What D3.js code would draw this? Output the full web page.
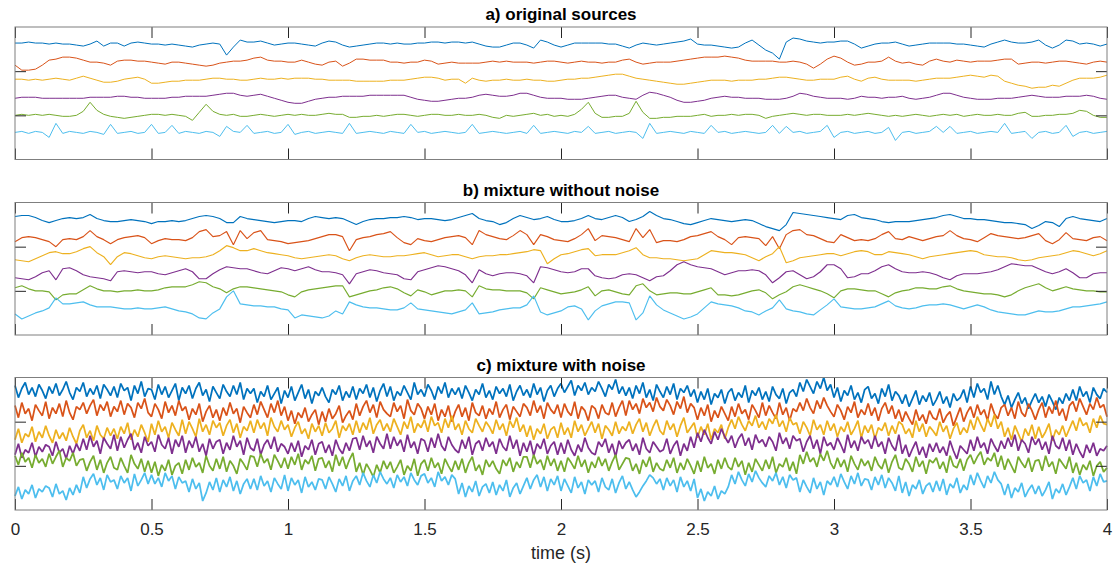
<!DOCTYPE html>
<html lang="en">

<head>
  <meta charset="UTF-8">
  <script src="https://cdn.jsdelivr.net/npm/d3@7"></script>
  <title>Sources and mixtures</title>
  <style>
    body { margin: 0; background: #fff; }
    svg { display: block; font-family: "Liberation Sans", Arial, sans-serif; }
  </style>
</head>

<body>
  <script>
  // Signals, 4 s each. Values are offsets from each trace's baseline.
  const duration = 4;
  const colors = ["#0072bd", "#d95319", "#edb120", "#7e2f8e", "#77ac30", "#4dbeee"];
  const titles = ["a) original sources", "b) mixture without noise", "c) mixture with noise"];
  const xTicks = [0, 0.5, 1, 1.5, 2, 2.5, 3, 3.5, 4];
  const yTicks = [44, 88];

  // a) original sources
  const srcOffsets = [116, 97, 80, 61, 44, 27];
  const srcBlue = [0,0,1,0,0,-1,0,-1,-1,-2,-3,-1,2,-3,0,0,-3,0,1,0,-1,-1,-2,-1,-2,-3,-4,-2,-1,0,-1,-12,-4,3,1,1,2,0,-2,-1,0,
    0,-1,-2,-3,0,2,1,-2,-4,-3,-2,-1,0,0,-1,0,-1,-1,0,0,1,1,0,1,1,0,1,-1,-3,-4,-4,
    -2,0,0,-2,-5,3,1,-2,-4,-2,0,0,0,0,0,-1,-1,-3,-5,-2,0,-1,-2,-1,0,1,2,4,-1,-2,-2,-3,-4,-5,-4,0,3,-2,-7,-10,-16,1,5,4,2,1,0,1,1,
    2,2,-1,-5,-3,-1,0,0,1,-1,-3,-2,-1,0,0,0,0,-1,-1,-2,-3,-4,-1,1,3,1,0,0,1,3,-2,-5,-2,3,2,-1,0,-1,-3,-1];
  const srcOrange = [-3,-8,-8,-7,-3,2,3,5,5,4,2,0,0,-1,-3,1,2,2,1,1,0,-1,-2,0,0,-1,-2,-3,-4,-3,-1,0,1,1,2,4,5,2,1,1,0,
    0,2,0,-2,-3,0,1,-4,-1,3,3,2,2,2,0,0,-1,0,0,2,1,-2,-1,0,-1,-1,-1,-1,0,1,0,
    1,0,0,0,-1,0,1,1,0,-1,0,1,0,0,-1,0,0,2,3,0,-2,-1,0,0,0,1,2,3,4,5,5,5,6,5,4,2,1,1,1,1,0,0,1,0,-2,-6,-2,3,6,
    4,0,-3,-2,0,0,1,5,1,-1,0,-2,-3,1,3,1,0,2,1,0,1,1,1,2,3,3,-2,-1,0,0,-1,0,1,1,0,-1,-2,0,1,0];
  const srcYellow = [0,0,-1,0,-1,0,1,0,-1,1,3,1,-1,-3,-3,-2,0,1,2,0,-4,-4,-3,-2,-2,-1,-1,-1,0,1,1,0,0,-1,-1,0,1,0,0,1,0,
    1,1,1,0,0,-1,-1,-1,-1,-2,-2,-2,-2,-2,-1,-1,-1,0,1,2,2,1,-1,0,0,-4,1,-1,-2,-1,-1,
    0,-1,-1,0,-1,-1,-2,-2,-1,0,0,1,1,2,3,4,5,5,3,1,0,-1,-2,-3,-4,-5,-5,-4,-3,-2,-1,-1,-1,-2,-1,-1,-1,0,0,1,2,2,1,0,-1,-1,0,0,0,
    2,3,0,-2,1,2,0,-1,-1,-1,-1,-2,-1,0,1,1,1,2,3,4,3,2,4,3,-2,-4,-6,-7,-9,-8,-8,-6,-7,-4,-1,1,1,1,2,4];
  const srcPurple = [0,1,1,1,0,0,0,0,0,0,0,1,1,1,1,2,2,1,1,0,0,0,0,1,1,2,2,2,2,3,4,5,5,3,2,3,4,2,0,-2,-4,
    -5,-5,-3,-1,0,1,1,2,2,2,2,3,3,3,3,3,3,1,-1,-2,-3,-3,-2,-1,0,0,1,3,4,3,2,
    2,3,5,5,3,1,0,0,0,-1,-1,-1,0,1,2,3,3,1,0,-1,3,6,5,3,1,-2,-4,-4,-3,-2,0,1,2,1,1,0,0,0,-1,-1,-1,0,2,5,4,2,1,0,0,
    0,-1,0,2,1,1,0,1,1,2,0,-1,0,1,3,5,5,3,1,0,-1,-1,-1,0,0,0,1,2,3,2,1,1,1,2,2,2,3,2,0,-1];
  const srcGreen = [0,1,0,1,0,1,0,-1,-1,0,4,13,5,1,-1,-2,-3,-2,-1,0,1,1,0,1,0,-1,-5,3,11,4,1,0,1,-1,-1,0,1,0,-1,0,1,
    0,1,0,0,1,2,1,1,-2,-2,-1,-1,0,-1,0,1,1,0,-1,0,1,1,0,0,1,0,0,1,0,-2,-3,
    0,-1,0,1,2,0,1,-1,0,-1,1,6,13,2,-2,-2,-1,-1,2,14,3,-3,-3,-2,-2,-1,-1,-1,0,1,-1,0,0,1,0,1,1,0,-3,-1,0,1,2,1,0,1,1,0,0,
    0,1,0,1,2,1,0,-1,0,-1,0,1,0,-1,0,1,0,1,-1,0,1,0,0,1,0,0,2,3,-1,-1,0,0,1,1,2,5,4,0,-2,-2];
  const srcCyan = [0,1,-1,1,0,-5,9,-1,1,0,-1,1,0,-2,8,-1,0,1,-1,0,8,-1,0,7,-1,1,0,-1,1,0,
    -4,6,1,0,7,-1,0,1,-1,0,8,-2,0,1,-1,0,1,0,-1,9,-1,0,1,0,-1,1,0,-1,8,0,
    1,-1,0,1,0,-1,0,8,-1,0,1,0,-1,0,1,-1,7,-1,0,1,0,-1,1,0,6,-1,0,1,-1,0,
    1,0,-6,9,-1,0,1,0,-1,1,0,-1,7,0,1,-1,0,1,0,-1,0,7,-1,6,0,1,-1,0,1,7,
    -5,0,1,-1,0,1,-1,0,5,-8,0,1,-1,0,1,6,0,6,-1,0,1,-1,0,1,0,9,-1,0,1,-6,
    0,1,-1,0,7,-4,0,1,-1,0,1];

  // b) mixture without noise
  const mixOffsets = [116, 96, 78, 63, 44, 24];
  const mixBlue = [2,3,3,1,-2,-4,-2,0,1,0,1,4,0,-2,-3,-3,-2,-1,-2,-3,-5,-3,-3,-2,-3,-2,0,2,3,2,
    0,-4,-4,2,0,-1,-2,-3,-4,-3,-2,-2,-3,0,2,1,0,1,0,-3,-6,-3,-1,0,0,1,1,2,1,-1,
    0,0,-1,-2,-1,1,3,5,0,-2,-3,-6,-4,0,3,1,-1,0,2,-1,-3,-3,-2,0,3,0,-1,1,3,1,
    -3,-1,2,7,3,0,-1,-3,-5,-6,-4,-2,0,-1,-2,-3,-2,-1,-2,-5,-8,-10,-12,-6,6,5,4,3,2,1,
    0,-1,3,4,1,0,-1,-3,-4,-3,-3,-3,-2,-1,0,1,3,4,2,0,0,-1,-1,-2,-3,-4,-4,-5,-6,-10,
    -7,-3,-4,-8,0,2,0,-1,-2,-3,0];
  const mixOrange = [-3,1,2,1,-1,-3,-8,-1,0,-1,2,8,2,-1,-5,-1,1,2,3,1,-5,-2,0,-1,-1,-2,1,7,9,2,
    3,7,-6,8,0,6,8,-1,-2,-3,-5,-4,-3,-2,0,2,4,4,2,-12,-1,1,2,4,5,7,1,-4,-6,0,
    -2,-3,-1,1,2,3,1,-6,8,4,2,0,-1,3,8,4,-6,4,2,-1,-2,-3,0,4,10,-2,3,2,1,-1,
    -3,10,1,9,-4,-2,-2,-3,-1,2,3,5,7,2,-1,-6,1,2,1,0,-7,2,-10,4,8,9,4,3,0,-3,
    -4,4,1,-2,-1,-2,0,4,7,0,-1,2,0,-2,0,2,3,8,3,0,-1,-3,1,5,3,2,1,0,1,3,
    5,-2,-5,-1,6,0,-1,-2,1,2,-2];
  const mixYellow = [-3,-4,-5,-2,1,4,5,3,3,5,8,10,4,0,-8,0,4,3,1,-1,-2,0,1,0,-1,-2,-1,-1,0,2,
    6,11,9,6,6,8,6,4,3,2,1,-1,-2,-1,0,1,2,1,-2,-4,-1,1,2,1,0,0,1,1,2,3,
    4,2,0,1,2,2,0,-2,0,1,1,2,2,3,4,5,7,6,-7,-2,2,3,5,7,8,1,2,2,2,4,
    6,9,2,-1,-1,-2,-2,-3,-4,-3,-2,2,6,5,4,4,3,2,-1,-4,0,3,10,-6,-4,-1,0,1,2,3,
    3,1,3,5,6,5,2,2,5,4,3,2,0,-2,0,1,2,3,4,5,6,5,2,1,0,0,-1,-3,-4,-3,
    -1,0,1,2,4,6,5,3,1,3,6];
  const mixPurple = [-6,-7,-8,-5,-1,1,-8,3,4,1,-3,-5,-6,-7,-9,0,1,0,-1,0,0,-2,-3,-1,1,3,0,-7,-7,-2,
    2,5,4,3,3,1,-1,-2,1,4,3,1,3,5,2,0,0,-1,-3,-12,-2,0,2,1,-1,-2,-3,-7,-8,0,
    2,4,6,5,3,1,-3,-11,2,-2,-4,-2,-1,-1,-2,-4,-11,5,4,2,0,-1,0,3,3,-4,-6,-7,-6,-3,
    -2,-3,-6,-9,-5,-4,1,7,10,7,5,4,3,0,-3,-1,1,1,2,1,-3,-11,-6,0,1,-3,-7,-5,0,7,
    7,3,-6,-5,-2,-2,1,5,7,3,0,-1,-1,0,-1,-3,-6,-8,-4,-2,-2,-2,-1,0,2,5,8,7,6,6,
    3,0,-2,0,3,-1,-6,-6,-2,-1,-1];
  const mixGreen = [3,5,2,0,0,-1,-9,-4,-3,-3,1,5,2,0,0,-1,0,0,1,0,0,1,3,4,4,4,6,9,8,4,
    2,-2,2,4,4,3,2,1,0,-1,-4,-6,-1,1,2,3,4,5,5,-6,-4,-2,0,1,3,4,2,-2,-5,1,
    -1,-4,-2,0,0,1,0,-6,5,2,1,1,0,0,0,-2,-8,3,1,-1,-3,-2,-1,1,4,-5,0,1,-1,-3,
    -4,5,7,0,-4,-3,-2,-2,-3,-3,-1,1,3,-4,-4,-5,-4,-2,0,1,-2,-8,-4,-1,4,6,4,2,0,-3,
    -7,0,2,2,1,0,0,-3,-6,-2,0,1,3,3,2,2,4,5,2,0,-1,-2,-3,-3,-4,-6,-4,0,3,5,
    7,3,0,2,4,2,1,0,0,-1,-1];
  const mixCyan = [-3,-8,-5,-2,0,3,13,7,7,8,9,6,4,4,4,3,2,2,3,2,2,3,4,2,0,-1,-3,-7,-8,-2,
    2,14,20,7,6,5,5,4,4,2,1,-7,-4,-5,-6,-7,-5,0,-3,9,6,4,3,3,2,1,1,3,8,2,
    1,0,-1,-2,-3,-1,1,8,-3,-2,-1,1,2,3,3,6,15,-1,-4,-2,0,4,5,2,-9,0,5,7,9,9,
    8,-9,-2,15,6,1,-2,-5,-8,-6,-3,3,9,7,6,5,3,0,-1,-4,0,3,11,2,0,-1,-3,-4,1,6,
    12,4,3,2,2,3,4,7,10,5,3,2,3,5,6,6,7,6,4,2,4,6,4,1,-1,-2,-3,-4,-4,-2,
    0,-1,-1,0,2,4,4,5,6,7,9];

  // c) mixture with noise (denser sampling)
  const noisyOffsets = [115, 97, 80, 64, 44, 23];
  const noisyBlue = [9,-3,6,12,0,7,-2,10,4,-4, 8,1,11,-1,5,13,2,-5,7,3, 12,-2,6,0,9,-4,10,5,-1,8,
    -3,11,4,7,-6,9,1,13,-2,6, 5,-5,10,0,8,-3,4,11,-6,7, 1,9,-4,6,12,-1,5,-7,8,2,
    -4,10,3,-2,9,0,12,-5,6,1, 6,-8,3,-2,9,-5,1,7,-9,4, -3,8,-6,2,10,-4,5,-9,3,-1,
    7,-2,-8,5,0,9,-6,3,-3,8, -5,6,1,10,-3,7,-7,4,11,-2, 8,-6,3,-1,9,2,-5,12,0,5,
    -2,10,4,-5,8,1,12,-3,6,0, 7,-4,9,2,-6,5,0,11,-3,4, -5,8,1,6,-2,10,-6,3,9,-1,
    5,-3,11,0,7,-7,4,9,-2,6, 11,2,8,14,-1,9,4,12,0,7, 3,13,6,-2,10,5,15,1,8,-1,
    7,-4,9,1,12,-3,5,-6,10,3, -3,8,0,11,-5,6,2,9,-2,5, -8,3,-5,6,-10,1,-3,5,-9,2,
    6,-6,2,-3,9,-8,4,-1,7,-5, 3,-7,8,0,-4,6,-9,2,5,-2, 12,3,15,8,1,13,6,17,4,10,
    -3,7,-7,4,-1,9,-5,2,-8,5, 8,-4,1,-9,6,-2,10,-6,3,-1, -9,0,-12,-4,4,-10,-1,-7,2,-11,
    -5,3,-9,-2,-13,1,-6,-3,5,-8, 8,-3,11,2,6,-5,13,0,9,-2, -10,-1,-13,-5,2,-9,-3,-14,-6,1,
    -8,-2,-12,0,-7,-15,-3,-9,1,-6, 5,-6,8,-2,3,-8,7,0,-4,6, 2];
  const noisyOrange = [7,-5,10,-1,4,-8,8,2,-3,11, -6,5,-1,9,-4,12,0,-7,6,3, 10,-1,7,13,-3,8,2,11,-4,6,
    1,12,-2,9,5,-5,10,4,14,0, -4,9,3,-6,11,0,7,-3,12,2, 6,-7,4,-2,9,-9,1,7,-5,3,
    -8,5,-3,10,-1,4,-10,6,0,-5, 8,-2,11,3,-5,9,0,12,-3,6, -8,2,-11,0,-5,5,-9,-2,3,-12,
    1,-9,4,-6,-1,7,-10,-3,2,-7, 9,-3,6,12,0,8,-5,11,3,-1, -4,10,1,7,-6,13,2,-2,9,4,
    -6,6,-2,9,-8,3,-4,7,-9,1, 8,-4,5,-8,10,0,-3,7,-6,4, -2,11,-5,3,8,-7,6,1,-4,9,
    5,-3,12,0,7,-6,10,3,-1,8, -5,9,1,-3,11,-6,6,2,-8,7, 4,-6,8,0,-2,10,-4,5,12,-3,
    12,3,9,-1,14,5,10,1,15,6, 2,13,7,-2,11,4,16,0,9,5, -7,5,-3,8,-9,2,-5,6,-1,-8,
    6,-4,9,-1,3,-7,8,2,-5,10, -3,7,0,-6,10,-2,5,-8,4,1, 10,2,14,5,-1,12,4,15,7,1,
    -4,8,2,-7,6,0,11,-5,3,-2, 9,-3,5,-8,4,10,-1,7,-6,3, -9,1,-6,-12,3,-8,-2,-11,2,-5,
    -7,4,-10,-3,1,-13,-4,5,-9,0, 6,-5,8,-2,3,-8,9,-1,-6,5, 8,-3,5,-6,11,0,-4,9,2,-7,
    3,10,-5,6,-1,12,-3,4,-8,7, 11,1,14,6,-2,9,3,15,5,8, -4];
  const noisyYellow = [-10,1,-13,-4,-7,3,-12,-2,-8,4, -6,-13,0,-9,-3,-11,2,-7,-14,-1, 5,-8,-1,-11,4,-5,-9,2,-6,1,
    -9,3,-4,7,-10,0,-7,5,-3,-12, 6,-5,9,-2,3,-8,7,0,-6,10, -4,8,1,-7,11,-2,5,-5,9,2,
    7,-6,4,10,-3,6,-8,3,-1,9, -3,10,1,7,-6,12,3,-2,9,0, 5,-7,2,8,-4,1,-9,6,-2,4,
    -6,7,-3,1,9,-8,4,-1,6,-5, 9,-3,7,0,12,-4,5,10,-1,6, -2,11,3,-5,8,1,13,-3,6,2,
    10,-2,13,4,7,-3,11,2,14,0, 6,-5,9,1,-3,11,4,-2,8,3, -4,10,0,6,-6,9,2,12,-2,5,
    -7,4,-10,1,-4,6,-9,0,3,-8, 7,-5,2,-8,9,-2,5,-6,1,8, -3,6,-9,4,0,-6,8,-4,3,-1,
    8,-4,5,11,-2,7,-6,3,10,-1, -5,9,0,6,-7,4,12,-3,2,7, -8,3,-5,6,-10,1,-3,5,-9,2,
    10,1,13,5,-1,9,4,14,2,8, 0,11,6,15,3,9,-2,12,5,7, -4,8,2,-6,10,0,5,-5,9,-1,
    6,-7,3,-2,8,-5,1,9,-8,4, -3,5,-9,2,-1,7,-6,4,-4,8, 5,-4,1,-8,9,-2,6,-7,3,-1,
    -6,8,-2,4,-9,1,7,-5,2,-3, 10,0,13,5,-2,11,3,15,1,8, -7,2,-10,4,-4,-12,1,-6,5,-9,
    3,-8,-2,6,-11,0,-5,4,-7,1, 9,-1,12,4,7,-3,11,2,14,6, 5];
  const noisyPurple = [-9,2,-12,-4,-7,3,-11,-1,-6,1, -1,-10,4,-7,-3,-13,0,-8,2,-5, 7,-4,10,-1,5,-8,8,2,-3,11,
    -5,9,-2,6,12,-4,3,-7,9,0, 4,-6,11,1,-3,8,-8,6,-1,10, -7,5,-2,9,-6,2,-10,7,-3,4,
    6,-8,3,-4,10,-1,5,-9,8,-2, -5,7,-9,1,6,-3,9,-6,2,-1, -8,3,-6,5,-11,0,-4,6,-9,2,
    4,-7,1,-10,6,-3,-8,3,-5,7, 8,-4,10,-1,5,-7,9,2,-3,12, -3,9,0,6,-6,11,-2,4,-8,7,
    5,-6,8,-2,12,0,-5,9,1,-4, -7,6,-3,9,-9,2,5,-5,8,-1, 4,-8,7,-1,-5,10,-3,6,-10,3,
    -6,5,-10,2,-3,7,-8,0,4,-9, 3,-8,6,-4,-10,1,-6,8,-2,-7, -9,4,-1,7,-7,2,-11,5,-3,3,
    6,-5,2,-9,8,-3,-7,4,-1,-6, -4,7,-8,0,5,-10,2,-5,9,-2, 13,4,16,8,2,14,6,17,9,3,
    10,-2,7,12,0,8,-4,11,3,6, -1,9,4,-5,13,2,8,-3,10,5, 7,-6,4,10,-3,6,-8,9,0,3,
    -4,8,1,-7,11,-2,5,-5,9,2, 6,-3,10,-1,4,-8,8,0,-5,11, -8,1,-11,-3,4,-9,-1,-12,2,-6,
    3,-7,-1,-10,5,-5,-13,0,-4,-8, 6,-5,9,-2,3,-8,7,0,-6,5, -3,8,-1,11,-5,6,2,-7,9,1,
    7,-4,4,-8,10,0,-3,8,-5,6, -9,2,-6,-12,1,-7,3,-10,-3,-5, 0];
  const noisyGreen = [10,1,13,4,8,-2,11,3,7,-1, 12,2,9,15,-1,8,5,13,0,6, 7,-5,4,10,-4,6,-7,3,9,-2,
    -4,8,0,-7,11,2,-3,7,-6,5, -7,4,-10,1,-5,6,-9,0,3,-8, 6,-4,8,-1,3,-7,10,0,-5,7,
    -3,9,-6,5,0,-8,7,2,-4,10, 9,-1,12,3,7,-4,11,5,-2,8, -3,9,1,12,-4,6,2,10,-5,7,
    8,-2,5,-6,11,0,9,-3,6,13, -6,3,-9,2,-4,-11,1,-7,5,-3, 4,-7,-1,6,-9,0,-5,7,-10,2,
    6,-5,8,-2,3,-8,7,0,-6,5, -4,7,-7,3,9,-5,1,-9,6,-1, 5,-3,-8,6,0,8,-6,4,-2,9,
    9,-2,11,2,6,-4,10,0,7,-5, 5,-6,8,3,-3,10,-1,6,-7,4, -2,9,0,7,-5,4,11,-4,2,8,
    7,-5,2,-8,6,-1,9,-6,3,-3, -5,6,-2,8,-7,3,-4,7,0,-8, 5,-6,9,-2,2,-8,6,-3,8,-1,
    -4,8,-1,5,-9,3,-6,7,1,-5, 6,-3,9,-7,2,-1,8,-5,4,-8, 11,2,14,4,8,-1,12,5,15,3,
    -3,8,-1,6,-6,10,2,-4,7,0, 5,-5,9,1,-3,7,-7,4,11,-2, -4,7,2,-6,9,-1,5,-8,6,3,
    8,-3,4,-7,10,0,-2,7,-5,6, 11,2,9,14,1,8,5,13,-1,10, -4,7,0,-7,9,3,-2,8,-6,5,
    6,-5,10,-1,4,-8,7,2,-3,9, -7,3,-9,1,-4,5,-10,0,4,-6, -2];
  const noisyCyan = [-9,0,-12,-3,-7,2,-11,-2,-5,1, -1,-10,3,-7,-4,-13,-1,-8,2,-6, 10,-1,8,13,2,9,-3,12,5,7,
    -2,11,4,9,-4,13,1,7,14,3, 12,3,9,0,14,6,11,-2,10,4, 6,-5,8,-2,4,-14,-6,5,-3,9,
    -5,7,0,10,-4,6,-7,3,8,-2, 8,-3,11,1,6,-5,9,3,-2,12, -4,9,2,7,-6,10,0,5,-3,8,
    7,-2,10,3,-5,8,1,11,-4,6, 11,2,14,6,0,12,4,15,8,3, 9,-1,12,5,10,1,14,7,2,11,
    13,4,9,0,15,6,10,2,12,8, -7,4,-10,1,-5,6,-9,0,3,-6, 5,-8,2,-4,7,-10,-1,4,-7,1,
    9,-2,7,12,0,10,-4,8,2,11, -4,8,1,-6,10,-1,5,-7,7,2, 6,-5,9,0,-3,8,-6,4,11,-2,
    5,-3,-10,-5,1,6,12,9,3,8, -3,9,1,7,-5,10,0,6,-4,8, -11,-2,-14,-5,-9,1,-12,-4,-7,0,
    12,3,15,7,1,13,5,16,9,4, 0,11,6,14,2,10,-1,12,7,9, -5,7,0,-6,9,-2,5,-8,6,2,
    10,0,13,5,-2,11,3,14,1,8, 7,-3,10,2,12,-1,9,4,-4,11, -6,5,-9,2,-2,7,-7,1,4,-5,
    6,-4,8,-8,3,-1,9,-6,2,-3, 12,2,14,6,-1,11,4,15,7,3, -8,3,-11,-1,-5,4,-10,-3,2,-7,
    1,-9,-3,5,-12,-2,-6,3,-8,0, 9,-2,11,4,7,-4,10,1,13,5, 6];

  const panels = [
    { title: titles[0], top: 27, offsets: srcOffsets, width: 1,
      traces: [srcBlue, srcOrange, srcYellow, srcPurple, srcGreen, srcCyan] },
    { title: titles[1], top: 202.5, offsets: mixOffsets, width: 1.15,
      traces: [mixBlue, mixOrange, mixYellow, mixPurple, mixGreen, mixCyan] },
    { title: titles[2], top: 377.5, offsets: noisyOffsets, width: 1.75,
      traces: [noisyBlue, noisyOrange, noisyYellow, noisyPurple, noisyGreen, noisyCyan] }
  ];

  const w = 1115;
  const h = 569;
  const ph = 132.5;

  const svg = d3.select("body")
    .append("svg")
    .attr("width", w)
    .attr("height", h);

  const x = d3.scaleLinear().domain([0, duration]).range([15, 1107]);

  panels.forEach(function (p, pi) {
    const y = d3.scaleLinear().domain([0, 132]).range([p.top + ph, p.top]);
    const g = svg.append("g");
    const last = pi === panels.length - 1;

    // traces
    p.traces.forEach(function (vals, ti) {
      const line = d3.line()
        .x(function (d, i, arr) { return x(i * duration / (arr.length - 1)); })
        .y(function (d) { return y(d + p.offsets[ti]); });
      g.append("path")
        .datum(vals)
        .attr("d", line)
        .attr("fill", "none")
        .attr("stroke", colors[ti])
        .attr("stroke-width", p.width)
        .attr("stroke-linejoin", "bevel");
    });

    // box + inward ticks (matlab style)
    const axes = [
      g.append("g").attr("transform", "translate(0," + (p.top + ph) + ")")
        .call(d3.axisBottom(x).tickValues(xTicks).tickSize(-11).tickPadding(13)
          .tickFormat(last ? function (d) { return d; } : "")),
      g.append("g").attr("transform", "translate(0," + p.top + ")")
        .call(d3.axisTop(x).tickValues(xTicks).tickSize(-11).tickFormat("")),
      g.append("g").attr("transform", "translate(15,0)")
        .call(d3.axisLeft(y).tickValues(yTicks).tickSize(-11).tickFormat("")),
      g.append("g").attr("transform", "translate(1107,0)")
        .call(d3.axisRight(y).tickValues(yTicks).tickSize(-11).tickFormat(""))
    ];
    axes.forEach(function (a) {
      a.attr("font-family", null).attr("font-size", 17).attr("color", "#262626");
      a.select(".domain").remove();
      a.selectAll(".tick line").attr("stroke", "#262626");
    });

    g.append("rect")
      .attr("x", 15).attr("y", p.top)
      .attr("width", 1092).attr("height", ph)
      .attr("fill", "none")
      .attr("stroke", "#7f7f7f")
      .attr("stroke-width", 1);

    g.append("text")
      .attr("x", 561).attr("y", p.top - 7)
      .attr("text-anchor", "middle")
      .attr("font-size", 17)
      .attr("font-weight", "bold")
      .attr("fill", "#000")
      .text(p.title);
  });

  svg.append("text")
    .attr("x", 561).attr("y", 559)
    .attr("text-anchor", "middle")
    .attr("font-size", 18)
    .attr("fill", "#262626")
    .text("time (s)");
  </script>
</body>
</html>
